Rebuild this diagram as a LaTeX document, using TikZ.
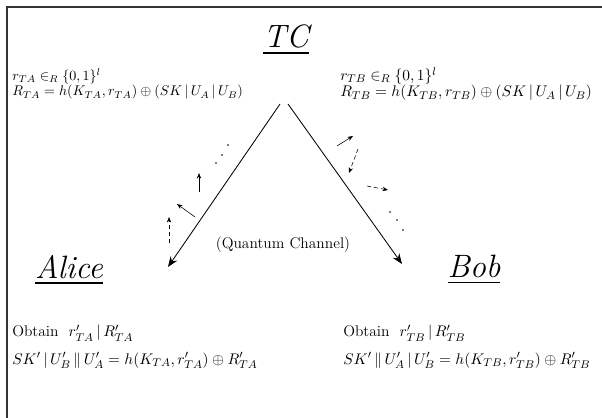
\documentclass[tikz,border=0pt]{standalone}
\usetikzlibrary{arrows.meta,positioning}
\usepackage{amsmath,amssymb}
\tikzset{
  party/.style={font=\fontsize{23}{27}\selectfont\itshape,inner sep=1pt},
  eqn/.style={anchor=west,align=left,font=\normalsize,inner sep=0pt},
  eqnbig/.style={eqn,font=\fontsize{11}{13.6}\selectfont},
  chan/.style={-{Stealth[length=2.6mm,width=2mm]},semithick},
  photon/.style={-{Stealth[length=1.4mm,width=1.1mm]},thin},
  frame/.style={line width=1.2pt,draw=black!80},
}
\begin{document}
\begin{tikzpicture}[x=0.025cm,y=-0.025cm]
\useasboundingbox (0,0) rectangle (602,418);
\draw[frame] (7,418) -- (7,7) -- (602,7);
% the centre and the two users
\node[party] (tc) at (286,40) {\underline{TC}};
\node[party] (alice) at (69,270) {\underline{Alice}};
\node[party] (bob) at (474,270) {\underline{Bob}};
% what TC sends
\node[eqn] (tcA) at (12,84) {$r_{TA} \in_R \{0,1\}^l$\\[-1pt]
  $R_{TA} = h(K_{TA}, r_{TA}) \oplus (SK \,|\, U_A \,|\, U_B)$};
\node[eqnbig] (tcB) at (340,84) {$r_{TB} \in_R \{0,1\}^l$\\[-2pt]
  $R_{TB} = h(K_{TB}, r_{TB}) \oplus (SK \,|\, U_A \,|\, U_B)$};
% what the users recover
\node[eqnbig] (recA) at (12,347) {Obtain \ $r'_{TA} \,|\, R'_{TA}$\\[6pt]
  $SK' \,|\, U'_B \,\|\, U'_A = h(K_{TA}, r'_{TA}) \oplus R'_{TA}$};
\node[eqnbig] (recB) at (343,347) {Obtain \ $r'_{TB} \,|\, R'_{TB}$\\[6pt]
  $SK' \,\|\, U'_A \,|\, U'_B = h(K_{TB}, r'_{TB}) \oplus R'_{TB}$};
% quantum channel
\coordinate (apexA) at (280,104);
\coordinate (apexB) at (288,104);
\coordinate (endA) at (168,267);
\coordinate (endB) at (402,264);
\draw[chan] (apexA) -- (endA);
\draw[chan] (apexB) -- (endB);
\node[font=\fontsize{11}{13}\selectfont] (qc) at (283,245) {(Quantum Channel)};
% photons towards Alice
\foreach \x/\y in {228/145,222/155,216/163}
  \fill (\x,\y) circle (0.9);
\draw[photon] (199,192) -- (199,173);
\draw[photon] (195,217) -- (177,204);
\draw[photon,densely dashed] (169,243) -- (169,217);
% photons towards Bob
\draw[photon] (337,146) -- (353,136);
\draw[photon,densely dashed] (358,149) -- (349,173);
\draw[photon,densely dashed] (367,186) -- (388,190);
\foreach \x/\y in {390/212,397/220,403/230}
  \fill (\x,\y) circle (0.9);
\end{tikzpicture}
\end{document}
